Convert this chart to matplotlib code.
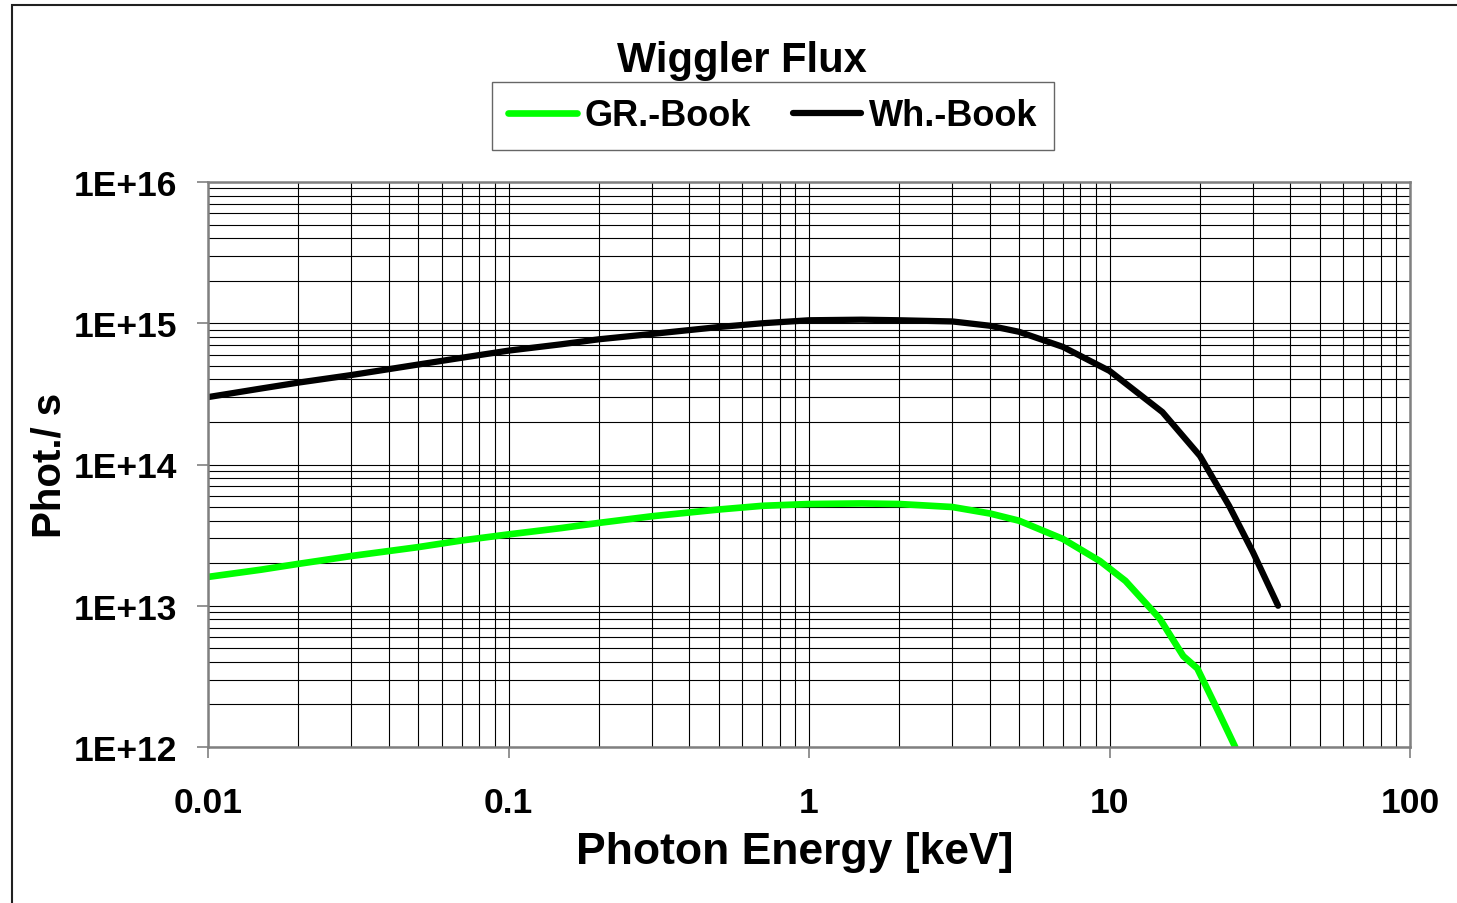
import numpy as np
import matplotlib.pyplot as plt
from matplotlib.patches import Rectangle

plt.rcParams['font.family'] = ['Liberation Sans', 'DejaVu Sans']
plt.rcParams['font.weight'] = 'bold'

# values (keV, phot./s)
e_wh = [0.01, 0.015, 0.02, 0.03, 0.05, 0.07, 0.1, 0.15, 0.2, 0.3, 0.5, 0.7,
        1, 1.5, 2, 3, 4, 5, 7, 10, 12, 15, 20, 25, 30, 36.4]
flux_wh = [3.0e14, 3.45e14, 3.8e14, 4.3e14, 5.1e14, 5.7e14, 6.4e14, 7.1e14,
           7.7e14, 8.4e14, 9.4e14, 1.0e15, 1.05e15, 1.06e15, 1.05e15, 1.03e15,
           9.6e14, 8.7e14, 6.8e14, 4.6e14, 3.4e14, 2.35e14, 1.15e14, 5.1e13,
           2.4e13, 1.0e13]

e_gr = [0.01, 0.015, 0.02, 0.03, 0.05, 0.07, 0.1, 0.15, 0.2, 0.3, 0.5, 0.7,
        1, 1.5, 2, 3, 4, 5, 7, 9.3, 11.3, 14.7, 17.6, 19.6, 22.8, 26.2]
flux_gr = [1.6e13, 1.8e13, 1.98e13, 2.25e13, 2.6e13, 2.9e13, 3.2e13, 3.55e13,
           3.86e13, 4.3e13, 4.8e13, 5.1e13, 5.25e13, 5.3e13, 5.25e13, 5.0e13,
           4.5e13, 4.0e13, 2.97e13, 2.07e13, 1.5e13, 8.1e12, 4.4e12, 3.6e12,
           1.86e12, 1.0e12]

x_ticks = [0.01, 0.1, 1, 10, 100]
x_labels = ['0.01', '0.1', '1', '10', '100']
y_ticks = [1e12, 1e13, 1e14, 1e15, 1e16]
y_labels = ['1E+12', '1E+13', '1E+14', '1E+15', '1E+16']

W, H = 1457, 904
fig = plt.figure(figsize=(W / 100, H / 100), dpi=100)
ax = fig.add_axes([208 / W, 1 - 748 / H, (1410 - 208) / W, (748 - 183) / H])

ax.plot(e_gr, flux_gr, color='#00ff00', lw=4.8, label='GR.-Book', solid_capstyle='round')
ax.plot(e_wh, flux_wh, color='black', lw=4.5, label='Wh.-Book', solid_capstyle='round')

ax.set_xscale('log')
ax.set_yscale('log')
ax.set_xlim(0.01, 100)
ax.set_ylim(1e12, 1e16)
ax.set_xticks(x_ticks, x_labels)
ax.set_yticks(y_ticks, y_labels)
ax.grid(True, which='both', color='black', lw=0.8)
ax.tick_params(which='minor', length=0)
ax.tick_params(which='major', length=8, width=1.2, color='#808080', labelsize=25.5)
ax.tick_params(axis='y', pad=14)
ax.tick_params(axis='x', pad=20)
for s in ax.spines.values():
    s.set_color('#808080')
    s.set_linewidth(1.8)

ax.set_xlabel('Photon Energy [keV]', fontsize=32, fontweight='bold')
ax.xaxis.set_label_coords((795 - 208) / (1410 - 208), -(832 - 748) / (748 - 183))
ax.xaxis.label.set_va('top')
ax.set_ylabel('Phot./ s', fontsize=29, fontweight='bold', labelpad=4)

fig.text(742 / W, 1 - 72 / H, 'Wiggler Flux', fontsize=30, fontweight='bold',
         ha='center', va='baseline')

leg = fig.legend(loc='center', bbox_to_anchor=(773 / W, 1 - 117 / H), ncol=2,
                 fontsize=26, frameon=True, fancybox=False, handlelength=1.9,
                 handletextpad=0.22, columnspacing=1.15, borderpad=0.45,
                 borderaxespad=0)
leg.get_frame().set_edgecolor('#404040')
leg.get_frame().set_linewidth(1.0)

# outer chart border (right and bottom edges lie beyond the crop)
fig.patches.append(Rectangle((12 / W, -0.1), 1.2, 1 - 6 / H + 0.1,
                             transform=fig.transFigure, fill=False,
                             edgecolor='#202020', lw=1.5))

fig.savefig('out.png', dpi=100)
